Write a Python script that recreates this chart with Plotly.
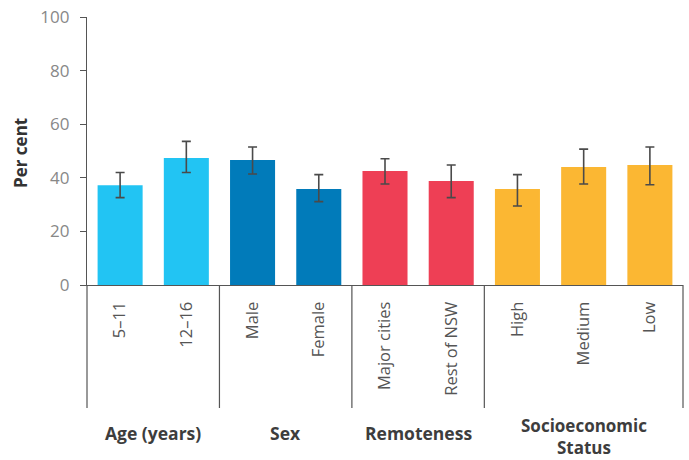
import plotly.graph_objects as go

categories = ["5–11", "12–16", "Male", "Female", "Major cities", "Rest of NSW", "High", "Medium", "Low"]
values = [37.2, 47.4, 46.6, 35.8, 42.5, 38.8, 35.8, 44.0, 44.8]
err_upper = [42.0, 53.6, 51.5, 41.2, 47.1, 44.8, 41.2, 50.7, 51.5]
err_lower = [32.6, 42.0, 41.4, 31.1, 37.7, 32.6, 29.5, 37.7, 37.4]
groups = ["Age (years)", "Sex", "Remoteness", "Socioeconomic<br>Status"]
group_sizes = [2, 2, 2, 3]
group_colors = ["#22C4F3", "#017BBA", "#EE3F55", "#FBB733"]

bar_colors = []
for c, n in zip(group_colors, group_sizes):
    bar_colors += [c] * n

xpos = list(range(len(categories)))
plus = [u - v for u, v in zip(err_upper, values)]
minus = [v - l for v, l in zip(values, err_lower)]

fig = go.Figure()
fig.add_trace(go.Bar(
    x=xpos, y=values, marker=dict(color=bar_colors, line=dict(width=0)),
    width=0.68,
    error_y=dict(type="data", symmetric=False, array=plus, arrayminus=minus,
                 color="#4a4a4a", thickness=1.6, width=4.5),
))

W, H = 689, 460
ml, mt = 87, 17
mr = W - 683
mb = H - 285
pw = W - ml - mr
ph = H - mt - mb
n = len(categories)

def px_x(v):
    return (v + 0.5) / n

def py(pixel):
    return (H - mb - pixel) / ph

shapes = []
annotations = []
start = 0
bounds = [-0.5]
centers = []
for s in group_sizes:
    end = start + s
    bounds.append(end - 0.5)
    centers.append((start + end - 1) / 2)
    start = end

label_y = [433, 433, 433, 436]
label_size = [17.5, 17.5, 17.5, 17]
for g, cx, yy, sz in zip(groups, centers, label_y, label_size):
    annotations.append(dict(
        text="<b>" + g + "</b>", x=px_x(cx), y=py(yy), xref="paper", yref="paper",
        xanchor="center", yanchor="middle", showarrow=False,
        font=dict(size=sz, color="#3d3d3d", family="Open Sans"),
        borderpad=0,
    ))

for b in bounds:
    shapes.append(dict(type="line", xref="paper", yref="paper",
                       x0=px_x(b), x1=px_x(b), y0=0, y1=py(408),
                       line=dict(color="#555555", width=1.2)))

annotations.append(dict(
    text="<b>Per cent</b>", x=(20 - ml) / pw, y=py(153), xref="paper", yref="paper",
    textangle=-90, showarrow=False, font=dict(size=17, color="#333333", family="Open Sans"),
    xanchor="center", yanchor="middle",
))

fig.update_layout(
    width=W, height=H,
    margin=dict(l=ml, r=mr, t=mt, b=mb, autoexpand=False),
    plot_bgcolor="white", paper_bgcolor="white",
    showlegend=False,
    font=dict(family="Open Sans", color="#555555"),
    shapes=shapes, annotations=annotations,
    xaxis=dict(
        tickmode="array", tickvals=xpos, ticktext=categories,
        tickangle=-90, range=[-0.5, n - 0.5],
        showline=True, linecolor="#555555", linewidth=1.2,
        ticks="", showgrid=False, zeroline=False,
        tickfont=dict(size=16.5, color="#555555"),
        ticklabelstandoff=9, automargin=False,
    ),
    yaxis=dict(
        range=[0, 100], tickvals=[0, 20, 40, 60, 80, 100],
        showline=True, linecolor="#555555", linewidth=1.2,
        ticks="outside", ticklen=6, tickcolor="#555555", tickwidth=1.2,
        showgrid=False, zeroline=False, automargin=False,
        tickfont=dict(size=17, color="#888888"),
        ticklabelstandoff=7, ticklabeloverflow="allow",
    ),
)

fig.write_html("out.html", config={"displayModeBar": False},
               post_script="document.body.style.margin='0';")
